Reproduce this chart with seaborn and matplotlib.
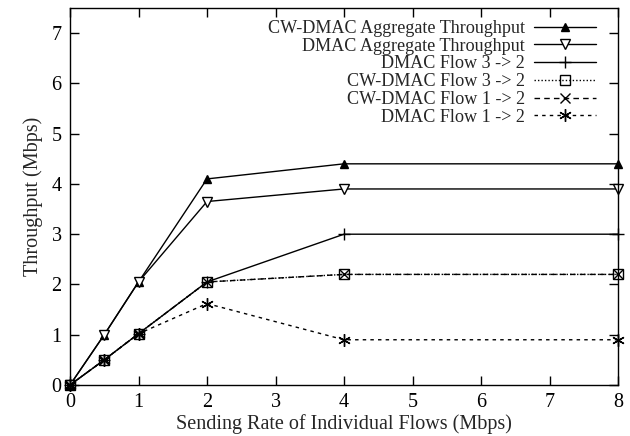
import matplotlib
matplotlib.use("Agg")
import matplotlib.pyplot as plt
import seaborn as sns
import pandas as pd

rates = [0, 0.5, 1, 2, 4, 8]
cw_agg = [0, 1.0, 2.05, 4.1, 4.4, 4.4]
dmac_agg = [0, 1.0, 2.05, 3.65, 3.9, 3.9]
dmac_f32 = [0, 0.5, 1.02, 2.05, 3.0, 3.0]
cw_f32 = [0, 0.5, 1.02, 2.05, 2.2, 2.2]
cw_f12 = [0, 0.5, 1.02, 2.05, 2.2, 2.2]
dmac_f12 = [0, 0.5, 1.02, 1.62, 0.9, 0.9]

labels = ["CW-DMAC Aggregate Throughput", "DMAC Aggregate Throughput",
          "DMAC Flow 3 -> 2", "CW-DMAC Flow 3 -> 2",
          "CW-DMAC Flow 1 -> 2", "DMAC Flow 1 -> 2"]
series = [cw_agg, dmac_agg, dmac_f32, cw_f32, cw_f12, dmac_f12]

styles = [
    dict(marker="^", ls="-", mfc="black", ms=6),
    dict(marker="v", ls="-", mfc="white", ms=7),
    dict(marker="+", ls="-", mfc="black", ms=9),
    dict(marker="s", ls=(0, (1, 1.5)), mfc="none", ms=7),
    dict(marker="x", ls=(0, (4, 3)), mfc="black", ms=7),
    dict(marker=(6, 2, 0), ls=(0, (2.5, 3)), mfc="black", ms=9),
]

sns.set_style("ticks")
plt.rcParams["font.family"] = ["Liberation Serif", "DejaVu Serif"]

fig = plt.figure(figsize=(6.3, 4.36), dpi=100)
ax = fig.add_axes([70/630, 1-385/436, (618-70)/630, (385-8)/436])

for lab, vals, st in zip(labels, series, styles):
    df = pd.DataFrame({"x": rates, "y": vals})
    sns.lineplot(data=df, x="x", y="y", ax=ax, color="black", lw=1.0,
                 marker=st["marker"], linestyle=st["ls"], markersize=st["ms"],
                 markerfacecolor=st["mfc"], markeredgecolor="black",
                 markeredgewidth=1.0, label=lab, clip_on=False)

ax.set_xlim(0, 8)
ax.set_ylim(0, 7.5)
ax.set_xticks(range(0, 9))
ax.set_yticks(range(0, 8))
ax.tick_params(direction="in", top=True, right=True, length=6.5, width=1,
               labelsize=14.5, colors="black", pad=6)
for s in ax.spines.values():
    s.set_linewidth(1.0)
    s.set_color("black")
ax.set_xlabel("Sending Rate of Individual Flows (Mbps)", fontsize=14.5, labelpad=1)
ax.set_ylabel("Throughput (Mbps)", fontsize=14.5, labelpad=6)

leg = ax.legend(loc="upper right", frameon=False, markerfirst=False,
                fontsize=13.1, handlelength=3.4, labelspacing=0.04,
                borderaxespad=0.0, borderpad=0.0, handletextpad=0.5,
                bbox_to_anchor=((596 - 70) / 548, 1 - 12 / 377),
                bbox_transform=ax.transAxes)
for t in leg.get_texts():
    t.set_ha("right")
leg._legend_box.align = "right"

fig.savefig("out.png", dpi=100)
